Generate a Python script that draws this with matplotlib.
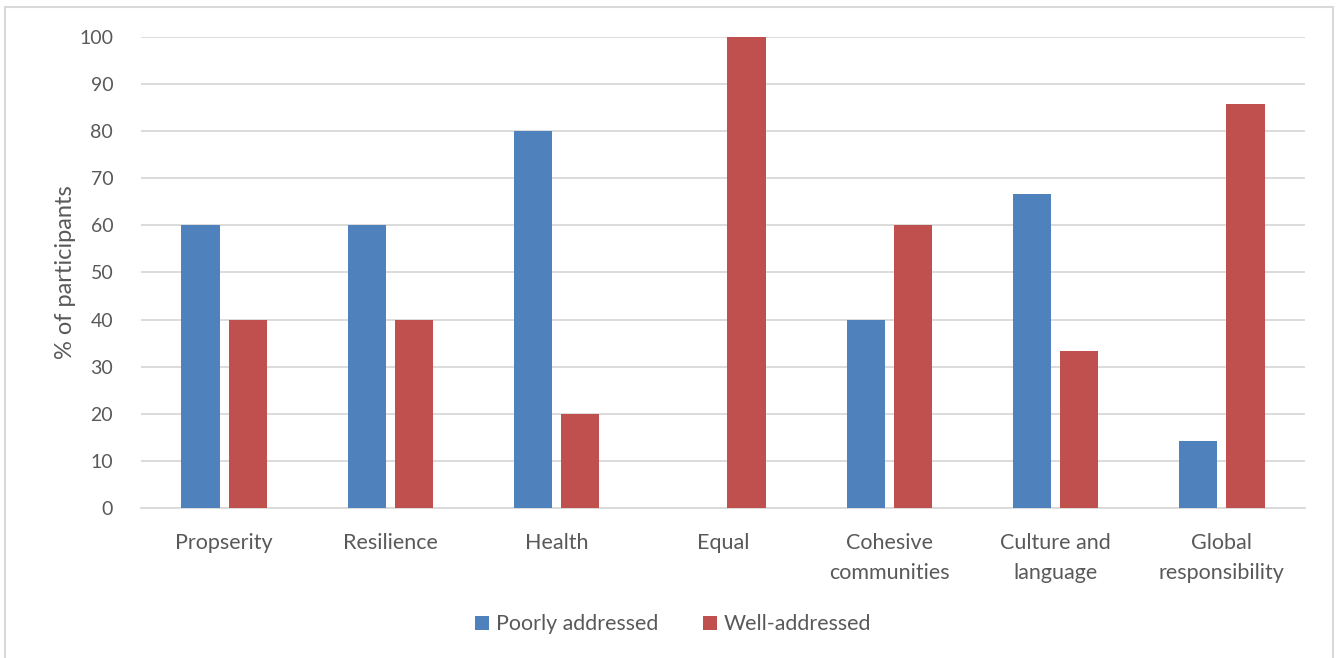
import numpy as np
import matplotlib.pyplot as plt
from matplotlib.patches import Rectangle

categories = ['Propserity', 'Resilience', 'Health', 'Equal',
              'Cohesive\ncommunities', 'Culture and\nlanguage', 'Global\nresponsibility']
poorly = [60, 60, 80, 0, 40, 66.7, 14.3]
well = [40, 40, 20, 100, 60, 33.3, 85.7]
yticks = [0, 10, 20, 30, 40, 50, 60, 70, 80, 90, 100]

blue = '#4F81BD'
red = '#C0504D'
grey_txt = '#595959'

plt.rcParams['font.family'] = ['Lato', 'DejaVu Sans']

fig = plt.figure(figsize=(13.38, 6.58), dpi=100)
ax = fig.add_axes([0.1054, 0.228, 0.8699, 0.7158])

x = np.arange(len(categories))
w = 0.23
ax.bar(x - 0.142, poorly, w, color=blue, label='Poorly addressed', zorder=3)
ax.bar(x + 0.142, well, w, color=red, label='Well-addressed', zorder=3)

ax.set_xlim(-0.5, len(categories) - 0.5)
ax.set_ylim(0, 100)
ax.set_yticks(yticks)
ax.set_xticks(x)
ax.set_xticklabels(categories, fontsize=15.5, color=grey_txt, linespacing=1.65)
ax.tick_params(axis='y', labelsize=14, labelcolor=grey_txt, length=0, pad=20)
ax.tick_params(axis='x', length=0, pad=18)
ax.grid(axis='y', color='#D9D9D9', linewidth=1.3, zorder=0)
for s in ['top', 'right', 'left']:
    ax.spines[s].set_visible(False)
ax.spines['bottom'].set_color('#D9D9D9')
ax.spines['bottom'].set_linewidth(1.3)

ax.set_ylabel('% of participants', fontsize=17, color=grey_txt, labelpad=2)

fig.legend(loc='center', bbox_to_anchor=(0.503, 0.051), ncol=2, frameon=False,
           fontsize=15.4, labelcolor=grey_txt, handlelength=0.65, handleheight=0.65,
           handletextpad=0.3, columnspacing=2.1)

# outer chart border (runs off the bottom edge)
fig.patches.append(Rectangle((5 / 1338, -10 / 658), 1328 / 1338, 661 / 658,
                             transform=fig.transFigure, fill=False,
                             edgecolor='#D9D9D9', linewidth=1.5))

fig.savefig('out.png', dpi=100)
